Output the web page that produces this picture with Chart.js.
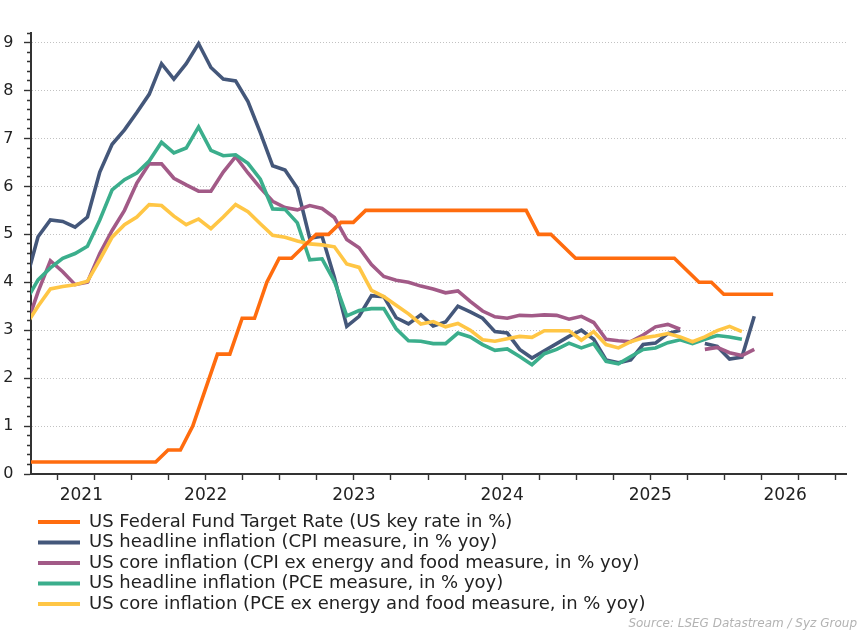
<!DOCTYPE html>
<html>
<head>
<meta charset="utf-8">
<script src="https://cdn.jsdelivr.net/npm/chart.js@4.4.1/dist/chart.umd.min.js"></script>
<style>
  html, body { margin: 0; padding: 0; background: #ffffff; }
  #wrap { width: 864px; height: 633px; position: relative; }
</style>
</head>
<body>
<div id="wrap"><canvas id="c" width="864" height="633"></canvas></div>
<script>
// ---------------- DATA ----------------
// Monthly inflation observations, first month = April 2021 (yoy, %)
const inflationStart = '2021-04';
const cpiHeadline = [
  4.0, 4.95, 5.3, 5.27, 5.15, 5.36, 6.3, 6.88, 7.18,
  7.54, 7.92, 8.56, 8.24, 8.56, 8.98, 8.48, 8.24, 8.2, 7.77, 7.12, 6.43,
  6.34, 5.96, 4.92, 4.96, 4.1, 3.08, 3.29, 3.72, 3.7, 3.26, 3.13, 3.32,
  3.09, 3.17, 3.5, 3.38, 3.25, 2.97, 2.94, 2.6, 2.42, 2.57, 2.72, 2.87,
  3.0, 2.81, 2.38, 2.32, 2.38, 2.7, 2.73, 2.93, 3.0, null, 2.72, 2.66,
  2.4, 2.44, 3.29
];
const cpiCore = [
  3.05, 3.8, 4.45, 4.22, 3.95, 4.0, 4.6, 5.08, 5.5,
  6.07, 6.47, 6.47, 6.17, 6.03, 5.9, 5.9, 6.3, 6.62, 6.28, 5.97, 5.69,
  5.56, 5.51, 5.6, 5.54, 5.35, 4.89, 4.72, 4.37, 4.12, 4.04, 4.0, 3.92,
  3.86, 3.78, 3.82, 3.6, 3.4, 3.28, 3.25, 3.31, 3.3, 3.32, 3.31, 3.23,
  3.29, 3.16, 2.81, 2.78, 2.76, 2.9, 3.07, 3.12, 3.02, null, 2.6, 2.64,
  2.53, 2.47, 2.6
];
const pceHeadline = [
  3.6, 4.05, 4.3, 4.5, 4.6, 4.75, 5.3, 5.93, 6.14,
  6.28, 6.53, 6.92, 6.7, 6.8, 7.24, 6.75, 6.64, 6.66, 6.48, 6.15, 5.53,
  5.52, 5.24, 4.47, 4.49, 4.02, 3.3, 3.41, 3.45, 3.45, 3.03, 2.78, 2.77,
  2.72, 2.72, 2.94, 2.86, 2.7, 2.58, 2.61, 2.45, 2.28, 2.51, 2.6, 2.73,
  2.63, 2.72, 2.35, 2.3, 2.45, 2.6, 2.63, 2.74, 2.8, 2.72, 2.81, 2.89,
  2.86, 2.81
];
const pceCore = [
  3.1, 3.5, 3.86, 3.91, 3.95, 4.02, 4.47, 4.94, 5.2,
  5.36, 5.62, 5.6, 5.38, 5.2, 5.32, 5.12, 5.36, 5.62, 5.47, 5.22, 4.98,
  4.94, 4.86, 4.8, 4.78, 4.74, 4.38, 4.31, 3.83, 3.7, 3.52, 3.34, 3.13,
  3.18, 3.07, 3.14, 3.0, 2.8, 2.77, 2.82, 2.87, 2.85, 2.99, 2.99, 2.99,
  2.79, 2.97, 2.7, 2.63, 2.76, 2.84, 2.88, 2.93, 2.86, 2.76, 2.86, 2.99,
  3.08, 2.97
];
// Fed funds target rate (upper bound, %), month-end values, first month = March 2021
const fedStart = '2021-03';
const fedRate = [
  0.25, 0.25, 0.25, 0.25, 0.25, 0.25, 0.25, 0.25, 0.25, 0.25,
  0.25, 0.25, 0.5, 0.5, 1.0, 1.75, 2.5, 2.5, 3.25, 3.25, 4.0, 4.5,
  4.5, 4.75, 5.0, 5.0, 5.25, 5.25, 5.5, 5.5, 5.5, 5.5, 5.5, 5.5,
  5.5, 5.5, 5.5, 5.5, 5.5, 5.5, 5.5, 5.5, 5.0, 5.0, 4.75, 4.5,
  4.5, 4.5, 4.5, 4.5, 4.5, 4.5, 4.5, 4.5, 4.25, 4.0, 4.0, 3.75,
  3.75, 3.75, 3.75, 3.75
];
const seriesLabels = [
  'US Federal Fund Target Rate (US key rate in %)',
  'US headline inflation (CPI measure, in % yoy)',
  'US core inflation (CPI ex energy and food measure, in % yoy)',
  'US headline inflation (PCE measure, in % yoy)',
  'US core inflation (PCE ex energy and food measure, in % yoy)'
];
const seriesColors = ['#FF6C0E', '#44577A', '#A25A87', '#3BAE8C', '#FFC645'];
const yearLabels = ['2021', '2022', '2023', '2024', '2025', '2026'];
const yTickLabels = ['0', '1', '2', '3', '4', '5', '6', '7', '8', '9'];
const sourceText = 'Source: LSEG Datastream / Syz Group';

// ---------------- DATE HANDLING (months since Jan 2021) ----------------
const X_MIN = 3.85, X_MAX = 69.85;          // visible date range
const MID_MONTH = 0.42, MONTH_END = 0.95;   // observation day within month
function monthIndex(s) { const [y, m] = s.split('-').map(Number); return (y - 2021) * 12 + (m - 1); }
function toPoints(startStr, values, dayFrac) {
  const s = monthIndex(startStr);
  return values.map((v, i) => ({ x: s + i + dayFrac, y: v }));
}
const quarterTicks = [];
for (let m = 6; m <= X_MAX; m += 3) quarterTicks.push(m);
const yearCenters = yearLabels.map((y, i) => {
  const a = Math.max(X_MIN, i * 12), b = Math.min(X_MAX, (i + 1) * 12);
  return { value: (a + b) / 2, label: y };
});
function yearLabelAt(v) {
  const f = yearCenters.find(c => Math.abs(c.value - v) < 1e-6);
  return f ? f.label : null;
}
const xTickValues = Array.from(new Set(quarterTicks.concat(yearCenters.map(c => c.value)))).sort((a, b) => a - b);

const FONT = 'DejaVu Sans';
const mk = (i, pts) => ({
  label: seriesLabels[i], data: pts, borderColor: seriesColors[i], backgroundColor: seriesColors[i],
  borderWidth: 3.6, pointRadius: 0, pointHoverRadius: 0, tension: 0, fill: false, spanGaps: false, clip: 0
});
const datasets = [
  mk(0, toPoints(fedStart, fedRate, MONTH_END)),
  mk(1, toPoints(inflationStart, cpiHeadline, MID_MONTH)),
  mk(2, toPoints(inflationStart, cpiCore, MID_MONTH)),
  mk(3, toPoints(inflationStart, pceHeadline, MID_MONTH)),
  mk(4, toPoints(inflationStart, pceCore, MID_MONTH))
];
datasets.forEach((d, i) => { d.order = i === 0 ? 0 : 5 - i; });

const isInt = v => Math.abs(v - Math.round(v)) < 1e-6;
const LEGEND_FONT = 18, LEGEND_ROW = 20.5;

const shiftBoxes = {
  id: 'shiftBoxes',
  afterLayout(chart) {
    if (chart.legend) { chart.legend.left += 35.5; chart.legend.right += 35.5; }
    if (chart.titleBlock) { chart.titleBlock.left += 11; chart.titleBlock.right += 11; }
  }
};

new Chart(document.getElementById('c'), {
  type: 'line',
  data: { datasets },
  plugins: [shiftBoxes],
  options: {
    responsive: false,
    animation: false,
    events: [],
    layout: { padding: { top: 33, right: 18, bottom: 1.6, left: 0 } },
    scales: {
      x: {
        type: 'linear', min: X_MIN, max: X_MAX, position: 'bottom',
        afterBuildTicks: s => { s.ticks = xTickValues.map(v => ({ value: v })); },
        afterFit: s => { s.height = 36.5; },
        ticks: {
          autoSkip: false, maxRotation: 0, minRotation: 0, padding: 5.5,
          color: '#222', font: { family: FONT, size: 17 },
          callback: v => yearLabelAt(v) || ''
        },
        grid: {
          drawOnChartArea: false, drawTicks: true, tickLength: 6, tickWidth: 1.4,
          tickColor: c => (c.tick && yearLabelAt(c.tick.value) && !quarterTicks.includes(c.tick.value)) ? 'rgba(0,0,0,0)' : '#333'
        },
        border: { color: '#333', width: 2 }
      },
      y: {
        type: 'linear', min: 0, max: 9.2, position: 'left',
        afterFit: s => { s.width = 31; },
        ticks: {
          stepSize: 0.2, autoSkip: false, padding: 10.5,
          color: '#222', font: { family: FONT, size: 16 },
          callback: v => isInt(v) ? yTickLabels[Math.round(v)] : ''
        },
        grid: {
          color: c => (c.tick && isInt(c.tick.value) && c.tick.value > 0) ? '#c2c2c2' : 'rgba(0,0,0,0)',
          lineWidth: 1, drawTicks: true, tickLength: 7, tickWidth: 1.4, tickColor: '#333',
          tickBorderDash: c => (c.tick && isInt(c.tick.value)) ? [] : [0, 3, 3, 0]
        },
        border: { color: '#333', width: 2, dash: [1, 2] }
      }
    },
    plugins: {
      legend: {
        display: true, position: 'bottom', align: 'start',
        labels: {
          boxWidth: 42, boxHeight: 4, padding: LEGEND_ROW - LEGEND_FONT,
          color: '#222', font: { family: FONT, size: LEGEND_FONT },
          generateLabels: ch => ch.data.datasets.map((d, i) => ({
            text: d.label, fillStyle: d.borderColor, strokeStyle: d.borderColor,
            lineWidth: 0, hidden: false, datasetIndex: i, fontColor: '#222'
          }))
        }
      },
      title: {
        display: true, position: 'bottom', align: 'end', text: sourceText,
        color: '#b3b3b3', font: { family: FONT, size: 12, style: 'italic', weight: 'normal' },
        padding: { top: -6, bottom: 0 }
      },
      tooltip: { enabled: false }
    }
  }
});
</script>
</body>
</html>
